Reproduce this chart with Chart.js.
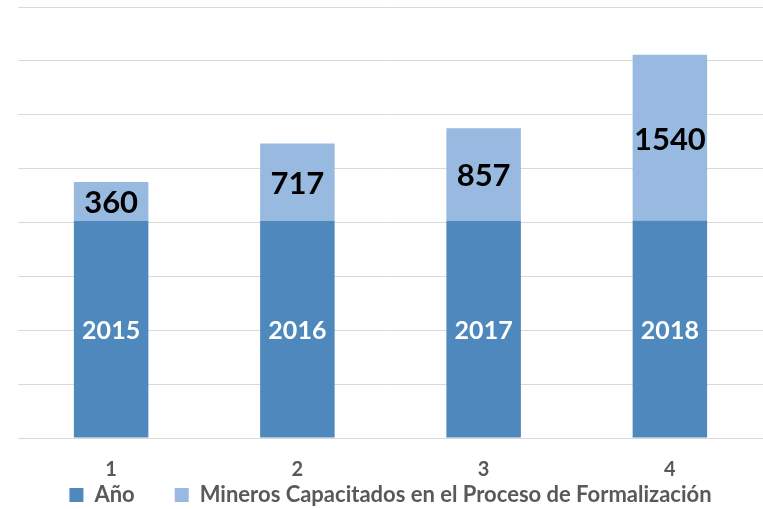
<!DOCTYPE html>
<html>
<head>
<meta charset="utf-8">
<script src="https://cdn.jsdelivr.net/npm/chart.js@4"></script>
<style>
  html, body { margin: 0; padding: 0; background: #fff; }
  #wrap { width: 763px; height: 509px; }
</style>
</head>
<body>
<div id="wrap"><canvas id="chart"></canvas></div>
<script>
var labels = ['1', '2', '3', '4'];
var years = [2015, 2016, 2017, 2018];
var mineros = [360, 717, 857, 1540];

var legendPad = 40;

// draws the value inside each bar segment
var segmentLabels = {
    id: 'segmentLabels',
    afterDatasetsDraw: function (chart) {
        var ctx = chart.ctx;
        chart.data.datasets.forEach(function (ds, i) {
            var meta = chart.getDatasetMeta(i);
            meta.data.forEach(function (bar, j) {
                var mid = (bar.y + bar.base) / 2;
                ctx.save();
                ctx.textAlign = 'center';
                ctx.textBaseline = 'middle';
                if (i === 0) {
                    ctx.fillStyle = '#ffffff';
                    ctx.font = 'bold 25px Lato';
                } else {
                    ctx.fillStyle = '#000000';
                    ctx.font = 'bold 31px Lato';
                }
                ctx.fillText(ds.data[j], bar.x, mid + 2);
                ctx.restore();
            });
        });
    }
};

// small legend box in the layout, wide gap between legend items
var legendFit = {
    id: 'legendFit',
    beforeInit: function (chart) {
        var fit = chart.legend.fit;
        chart.legend.fit = function () {
            fit.call(this);
            this.height = 27;
        };
    },
    afterLayout: function (chart) {
        chart.legend.top = 495 - legendPad - 11;
    }
};

var ctx = document.getElementById('chart');
var myChart = new Chart(ctx, {
    type: 'bar',
    data: {
        labels: labels,
        datasets: [{
            label: 'Año',
            data: years,
            backgroundColor: '#4f88bd'
        }, {
            label: 'Mineros Capacitados en el Proceso de Formalización',
            data: mineros,
            backgroundColor: '#98b9e0'
        }]
    },
    options: {
        responsive: true,
        maintainAspectRatio: false,
        animation: false,
        layout: { padding: { left: 18, top: 7, right: 0, bottom: 0 } },
        datasets: { bar: { barPercentage: 0.4, categoryPercentage: 1.0 } },
        scales: {
            x: {
                stacked: true,
                grid: { display: false, drawTicks: false },
                border: { color: '#d9d9d9', width: 1 },
                ticks: {
                    color: '#595959',
                    font: { family: 'Lato', size: 20, weight: 'bold' },
                    padding: 20
                },
                afterFit: function (scale) { scale.height = 44; }
            },
            y: {
                stacked: true,
                min: 0,
                max: 4000,
                ticks: { display: false, stepSize: 500 },
                border: { display: false },
                grid: { color: '#d9d9d9', lineWidth: 1, drawTicks: false }
            }
        },
        plugins: {
            legend: {
                position: 'bottom',
                labels: {
                    color: '#595959',
                    font: { family: 'Lato', size: 22, weight: 'bold' },
                    boxWidth: 14,
                    boxHeight: 14,
                    padding: legendPad
                }
            },
            tooltip: { enabled: false }
        }
    },
    plugins: [segmentLabels, legendFit]
});
</script>
</body>
</html>
